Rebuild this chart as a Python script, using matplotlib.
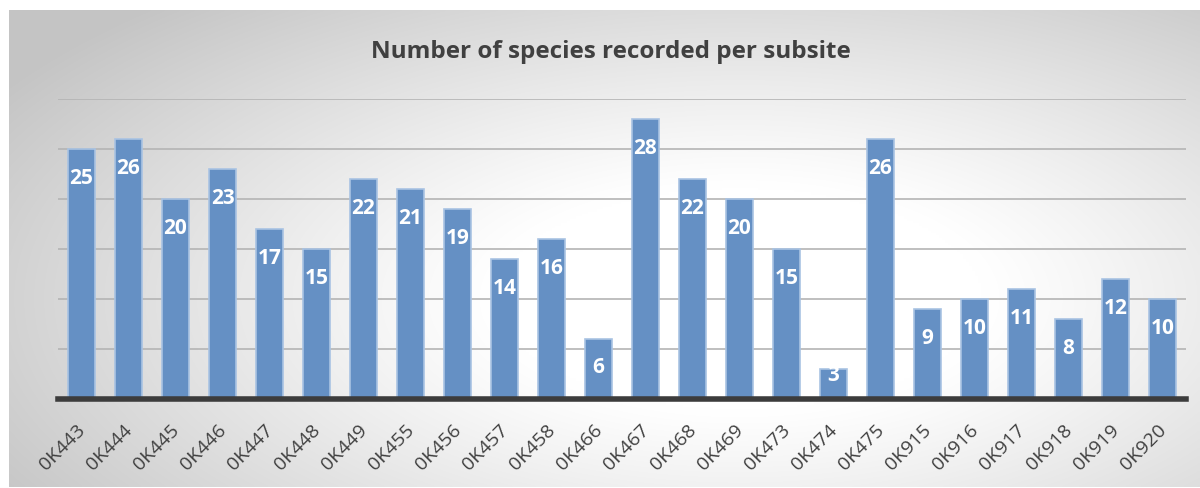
import numpy as np
import matplotlib.pyplot as plt
import matplotlib.transforms as mtransforms

subsites = ['0K443', '0K444', '0K445', '0K446', '0K447', '0K448', '0K449',
            '0K455', '0K456', '0K457', '0K458', '0K466', '0K467', '0K468',
            '0K469', '0K473', '0K474', '0K475', '0K915', '0K916', '0K917',
            '0K918', '0K919', '0K920']
species = [25, 26, 20, 23, 17, 15, 22, 21, 19, 14, 16, 6, 28, 22, 20, 15,
           3, 26, 9, 10, 11, 8, 12, 10]

W, H = 1200, 489
fig = plt.figure(figsize=(W / 100, H / 100), dpi=100)
fig.patch.set_facecolor('white')

# grey radial backdrop behind the chart
bg = fig.add_axes([9 / W, 1 - 488 / H, (W - 9) / W, (488 - 11) / H])
gx, gy = np.meshgrid(np.linspace(9, W, 400), np.linspace(11, 488, 200))
d = np.sqrt(((gx - 740) / 700) ** 2 + ((gy - 300) / 320) ** 2)
shade = np.clip(1.0 - 0.26 * np.clip(d - 0.35, 0, None) ** 1.1, 0.77, 1.0)
bg.imshow(np.dstack([shade] * 3), aspect='auto', extent=[0, 1, 0, 1],
          interpolation='bilinear')
bg.axis('off')

ax = fig.add_axes([58 / W, 1 - 400 / H, (1186 - 58) / W, 300 / H])
ax.patch.set_alpha(0)
x = np.arange(len(subsites))
ax.bar(x, species, width=0.59, color='#6590c4',
       edgecolor='#a9c3e3', linewidth=1.2, zorder=3)

for xi, v in zip(x, species):
    ypos = v - 2.8 if v >= 5 else v - 0.6
    ax.text(xi, ypos, str(v), ha='center', va='center', color='white',
            fontsize=15, fontweight='bold', family='Open Sans', zorder=4)

ax.set_xlim(-0.5, len(subsites) - 0.5)
ax.set_ylim(0, 30)
ax.set_yticks(range(5, 31, 5))
ax.yaxis.grid(True, color='#b4b4b4', linewidth=1.2, zorder=0)
ax.tick_params(axis='y', left=False, labelleft=False)
ax.tick_params(axis='x', length=0, pad=15)
ax.set_xticks(x)
ax.set_xticklabels(subsites, rotation=45, ha='right', rotation_mode='anchor',
                   fontsize=14, color='#404040', family='Open Sans')
# nudge the slanted labels a little to the left
shift = mtransforms.ScaledTranslation(-5 / 100, 0, fig.dpi_scale_trans)
for lbl in ax.get_xticklabels():
    lbl.set_transform(lbl.get_transform() + shift)
for s in ['top', 'right', 'left']:
    ax.spines[s].set_visible(False)
ax.spines['bottom'].set_color('#3c3c3c')
ax.spines['bottom'].set_linewidth(4)
ax.spines['bottom'].set_zorder(5)

fig.text(611 / W, 1 - 52 / H, 'Number of species recorded per subsite',
         ha='center', va='center', fontsize=17.5, fontweight='bold',
         color='#404040', family='Open Sans')

fig.savefig('out.png', dpi=100)
